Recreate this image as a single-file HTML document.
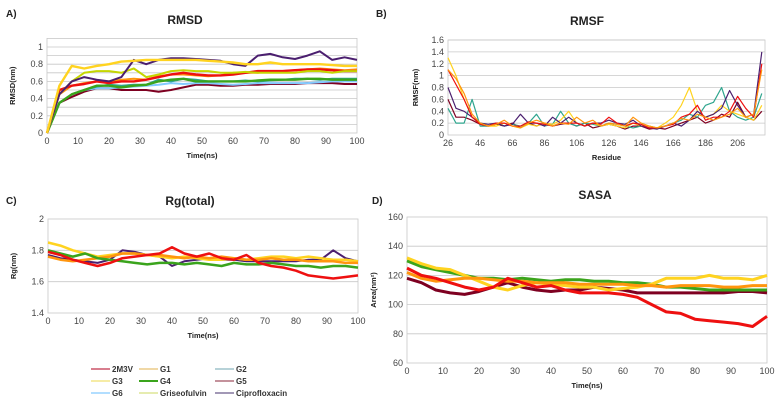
<!DOCTYPE html>
<html><head><meta charset="utf-8">
<style>
body{margin:0;background:#fff;}
svg{display:block;font-family:"Liberation Sans",sans-serif;}
.t{font-weight:bold;font-size:12px;fill:#222;text-anchor:middle}
.lab{font-weight:bold;font-size:10px;fill:#222}
.tk{font-size:9px;fill:#444}
.ax{font-weight:bold;font-size:7.5px;fill:#222;text-anchor:middle}
.lg{font-weight:bold;font-size:8px;fill:#333}
</style></head><body>
<svg id="s" width="783" height="403" viewBox="0 0 783 403">
<text class="lab" x="6" y="17">A)</text>
<text class="lab" x="376" y="17">B)</text>
<text class="lab" x="6" y="204">C)</text>
<text class="lab" x="372" y="204">D)</text>
<text class="t" x="185" y="24">RMSD</text>
<text class="t" x="587" y="25">RMSF</text>
<text class="t" x="190" y="205">Rg(total)</text>
<text class="t" x="595" y="199">SASA</text>
<g id="g"></g>
</svg>
<script>
const timeA=[0,4,8,12,16,20,24,28,32,36,40,44,48,52,56,60,64,68,72,76,80,84,88,92,96,100];
const residues=[26,31,36,41,46,51,56,61,66,71,76,81,86,91,96,101,106,111,116,121,126,131,136,141,146,151,156,161,166,171,176,181,186,191,196,201,206,211,216,221];
// RMSD
const rmsdCipro=[0,0.45,0.6,0.65,0.62,0.6,0.65,0.85,0.8,0.85,0.87,0.87,0.86,0.85,0.84,0.8,0.78,0.9,0.92,0.88,0.86,0.9,0.95,0.85,0.88,0.85];
const rmsdG3=[0,0.55,0.78,0.75,0.78,0.8,0.83,0.84,0.85,0.85,0.85,0.85,0.85,0.84,0.83,0.82,0.8,0.8,0.82,0.8,0.8,0.8,0.8,0.79,0.78,0.78];
const rmsdGris=[0,0.45,0.6,0.7,0.72,0.72,0.7,0.75,0.65,0.68,0.72,0.73,0.72,0.72,0.7,0.7,0.71,0.7,0.7,0.7,0.7,0.72,0.72,0.7,0.72,0.72];
const rmsdG1=[0,0.45,0.55,0.58,0.6,0.6,0.62,0.63,0.62,0.66,0.68,0.68,0.67,0.66,0.67,0.7,0.7,0.7,0.72,0.72,0.73,0.74,0.75,0.74,0.73,0.74];
const rmsd2M3V=[0,0.5,0.55,0.57,0.6,0.58,0.6,0.6,0.62,0.65,0.68,0.7,0.68,0.67,0.67,0.68,0.7,0.72,0.72,0.72,0.73,0.74,0.74,0.73,0.72,0.72];
const rmsdG2=[0,0.35,0.45,0.5,0.54,0.56,0.55,0.56,0.56,0.62,0.6,0.63,0.62,0.6,0.6,0.6,0.61,0.6,0.61,0.62,0.63,0.63,0.62,0.63,0.63,0.63];
const rmsdG6=[0,0.35,0.45,0.5,0.52,0.52,0.53,0.54,0.55,0.56,0.58,0.57,0.58,0.58,0.57,0.56,0.57,0.58,0.58,0.58,0.58,0.58,0.59,0.6,0.6,0.6];
const rmsdG4=[0,0.35,0.45,0.5,0.55,0.55,0.53,0.55,0.56,0.6,0.62,0.63,0.6,0.6,0.6,0.6,0.6,0.61,0.62,0.62,0.62,0.63,0.63,0.62,0.62,0.62];
const rmsdG5=[0,0.35,0.42,0.48,0.52,0.52,0.5,0.5,0.5,0.48,0.5,0.53,0.56,0.56,0.55,0.55,0.56,0.56,0.57,0.57,0.57,0.58,0.58,0.58,0.57,0.57];
// RMSF
const rmsfG1=[1.1,0.95,0.7,0.35,0.2,0.15,0.18,0.25,0.15,0.12,0.2,0.25,0.2,0.15,0.2,0.18,0.3,0.2,0.25,0.15,0.2,0.18,0.15,0.3,0.2,0.15,0.12,0.15,0.2,0.28,0.25,0.35,0.3,0.25,0.3,0.35,0.45,0.3,0.35,1.1];
const rmsfCipro=[0.8,0.45,0.4,0.3,0.2,0.18,0.2,0.15,0.18,0.35,0.2,0.2,0.15,0.3,0.2,0.3,0.2,0.15,0.2,0.2,0.25,0.2,0.18,0.25,0.15,0.12,0.1,0.15,0.2,0.15,0.25,0.4,0.3,0.35,0.45,0.75,0.5,0.3,0.35,1.4];
const rmsfG3=[1.3,1.0,0.6,0.3,0.2,0.15,0.15,0.2,0.15,0.12,0.18,0.15,0.2,0.18,0.25,0.4,0.2,0.15,0.2,0.15,0.18,0.15,0.12,0.2,0.15,0.15,0.12,0.2,0.3,0.5,0.8,0.4,0.3,0.35,0.5,0.4,0.35,0.3,0.25,0.5];
const rmsfG4=[0.45,0.2,0.2,0.6,0.15,0.15,0.2,0.15,0.18,0.15,0.2,0.35,0.15,0.18,0.4,0.2,0.15,0.2,0.18,0.15,0.2,0.18,0.15,0.12,0.15,0.15,0.12,0.15,0.2,0.25,0.35,0.3,0.5,0.55,0.8,0.4,0.3,0.25,0.3,0.7];
const rmsf2M3V=[1.1,0.85,0.6,0.3,0.18,0.15,0.2,0.2,0.15,0.15,0.22,0.2,0.18,0.15,0.2,0.2,0.2,0.15,0.2,0.18,0.3,0.2,0.15,0.2,0.18,0.12,0.12,0.15,0.18,0.3,0.35,0.5,0.25,0.3,0.3,0.4,0.65,0.45,0.3,1.2];
const rmsfG5=[0.6,0.3,0.3,0.25,0.18,0.15,0.18,0.15,0.2,0.12,0.2,0.15,0.2,0.15,0.18,0.2,0.15,0.2,0.12,0.15,0.18,0.15,0.1,0.15,0.15,0.1,0.12,0.1,0.15,0.2,0.25,0.3,0.2,0.25,0.35,0.3,0.55,0.3,0.25,0.4];
// Rg
const rgCipro=[1.77,1.75,1.74,1.73,1.72,1.74,1.8,1.79,1.77,1.76,1.7,1.73,1.74,1.75,1.74,1.74,1.73,1.73,1.73,1.73,1.73,1.74,1.74,1.8,1.75,1.73];
const rgG3=[1.85,1.83,1.8,1.78,1.76,1.77,1.78,1.78,1.77,1.76,1.75,1.76,1.75,1.74,1.74,1.75,1.74,1.75,1.76,1.76,1.75,1.76,1.75,1.74,1.74,1.73];
const rgG4=[1.8,1.78,1.76,1.78,1.75,1.74,1.73,1.72,1.71,1.72,1.72,1.71,1.72,1.71,1.70,1.72,1.71,1.71,1.72,1.71,1.70,1.70,1.69,1.70,1.70,1.69];
const rgG1=[1.76,1.74,1.73,1.74,1.75,1.76,1.78,1.78,1.77,1.77,1.76,1.75,1.76,1.75,1.76,1.75,1.74,1.74,1.75,1.74,1.74,1.73,1.73,1.73,1.72,1.72];
const rg2M3V=[1.79,1.77,1.74,1.72,1.7,1.72,1.75,1.76,1.77,1.78,1.82,1.78,1.76,1.78,1.75,1.74,1.77,1.72,1.7,1.69,1.67,1.64,1.63,1.62,1.63,1.64];
// SASA
const sasaG5=[118,115,110,108,107,109,112,115,112,110,109,110,110,112,111,110,108,108,108,108,108,108,108,109,109,108];
const sasaG4=[130,126,124,122,120,118,118,117,118,117,116,117,117,116,116,115,115,114,112,112,111,110,110,110,110,110];
const sasaG3=[132,128,125,124,120,116,112,110,113,115,114,113,112,112,110,111,112,114,118,118,118,120,118,118,117,120];
const sasaG1=[122,118,116,117,118,118,117,116,116,115,115,115,114,114,114,114,113,113,112,113,113,113,112,112,113,113];
const sasa2M3V=[125,120,118,115,112,110,112,118,115,112,113,110,108,108,108,107,105,100,95,94,90,89,88,87,85,92];

const NS="http://www.w3.org/2000/svg";
const G=document.getElementById('g');
function mk(t,a,p){const e=document.createElementNS(NS,t);for(const k in a)e.setAttribute(k,a[k]);(p||G).appendChild(e);return e;}
function panel(name,x0,x1,y0,y1,xmin,xmax,ymin,ymax,xticks,yticks,ygrid,xlabel,ylabel,ylx,series){
  const sx=v=>x0+(v-xmin)/(xmax-xmin)*(x1-x0), sy=v=>y0-(v-ymin)/(ymax-ymin)*(y0-y1);
  const g=mk('g',{});
  
  
  ygrid.forEach(v=>{const l=mk('line',{x1:x0,x2:x1,y1:sy(v),y2:sy(v),stroke:'#c8c8c8','stroke-width':0.8},g);
    
    });
  const b=mk('rect',{x:x0,y:y1,width:x1-x0,height:y0-y1,fill:'none',stroke:'#c8c8c8','stroke-width':0.8},g);
  
  
  yticks.forEach(v=>{const t=mk('text',{x:x0-4,y:sy(v)+3,'text-anchor':'end',class:'tk'},g);t.textContent=String(v);
    
    });
  xticks.forEach(v=>{const t=mk('text',{x:sx(v),y:y0+11,'text-anchor':'middle',class:'tk'},g);t.textContent=String(v);
    
    });
  const xl=mk('text',{x:(x0+x1)/2,y:y0+25,class:'ax'},g);xl.textContent=xlabel;
  
  
  const yl=mk('text',{x:0,y:0,class:'ax',transform:`translate(${ylx},${(y0+y1)/2}) rotate(-90)`},g);yl.textContent=ylabel;
  
  
  series.forEach(s=>{const d=s[1].map((v,i)=>(i?'L':'M')+sx(s[0][i]).toFixed(1)+','+sy(v).toFixed(1)).join('');
    const p=mk('path',{d:d,fill:'none',stroke:s[2],'stroke-width':s[3]||2,'stroke-linejoin':'round'},g);
    
    });
}
const C={m:'#c0304a',g1:'#ff950e',g2:'#2fa58e',g3:'#ffd320',g4:'#3aa41c',g5:'#7e0021',g6:'#83caff',gr:'#c5d600',ci:'#4b1f6f',r:'#ee1010'};
panel('rmsd-chart',47,357,133,38.4,0,100,0,1.1,[0,10,20,30,40,50,60,70,80,90,100],[0,0.2,0.4,0.6,0.8,1],[0.1,0.2,0.3,0.4,0.5,0.6,0.7,0.8,0.9,1],'Time(ns)','RMSD(nm)',15,
 [[timeA,rmsdG5,C.g5],[timeA,rmsdG6,C.g6],[timeA,rmsdG2,C.g2],[timeA,rmsdG4,C.g4,2.4],[timeA,rmsdG1,C.g1],[timeA,rmsd2M3V,C.r,2.4],[timeA,rmsdGris,C.gr],[timeA,rmsdCipro,C.ci],[timeA,rmsdG3,C.g3,2.4]]);
panel('rmsf-chart',448,765,135,40,26,223,0,1.6,[26,46,66,86,106,126,146,166,186,206],[0,0.2,0.4,0.6,0.8,1,1.2,1.4,1.6],[0.2,0.4,0.6,0.8,1,1.2,1.4,1.6],'Residue','RMSF(nm)',418,
 [[residues,rmsfG5,C.g5,1.2],[residues,rmsfG4,C.g2,1.2],[residues,rmsfG3,C.g3,1.2],[residues,rmsfCipro,C.ci,1.2],[residues,rmsf2M3V,C.r,1.2],[residues,rmsfG1,C.g1,1.2]]);
panel('rg-chart',48,358,313,219,0,100,1.4,2,[0,10,20,30,40,50,60,70,80,90,100],[1.4,1.6,1.8,2],[1.6,1.8],'Time(ns)','Rg(nm)',16,
 [[timeA,rgCipro,C.ci],[timeA,rgG3,C.g3,2.5],[timeA,rgG1,C.g1,2.5],[timeA,rgG4,C.g4,2.5],[timeA,rg2M3V,C.r,2.5]]);
panel('sasa-chart',407,767,363,217,0,100,60,160,[0,10,20,30,40,50,60,70,80,90,100],[60,80,100,120,140,160],[80,100,120,140],'Time(ns)','Area(nm²)',376,
 [[timeA,sasaG5,C.g5,3],[timeA,sasaG4,C.g4,3],[timeA,sasaG3,C.g3,3],[timeA,sasaG1,C.g1,3],[timeA,sasa2M3V,C.r,3]]);
const legNames=['2M3V','G1','G2','G3','G4','G5','G6','Griseofulvin','Ciprofloxacin'];
const legColors=[C.m,'#e8c070','#8cb8c0','#f0e070',C.g4,'#a05060',C.g6,'#d8e080','#6a5a8a'];
const legX=[91,139,215], legY=[369,381,393];
legNames.forEach((n,i)=>{const x=legX[i%3],y=legY[Math.floor(i/3)];
  const l=mk('line',{x1:x,x2:x+19,y1:y,y2:y,stroke:legColors[i],'stroke-width':i==4?2:1.2});
  
  
  const t=mk('text',{x:x+21,y:y+3,class:'lg'});t.textContent=n;
  
  });
</script>
</body></html>
